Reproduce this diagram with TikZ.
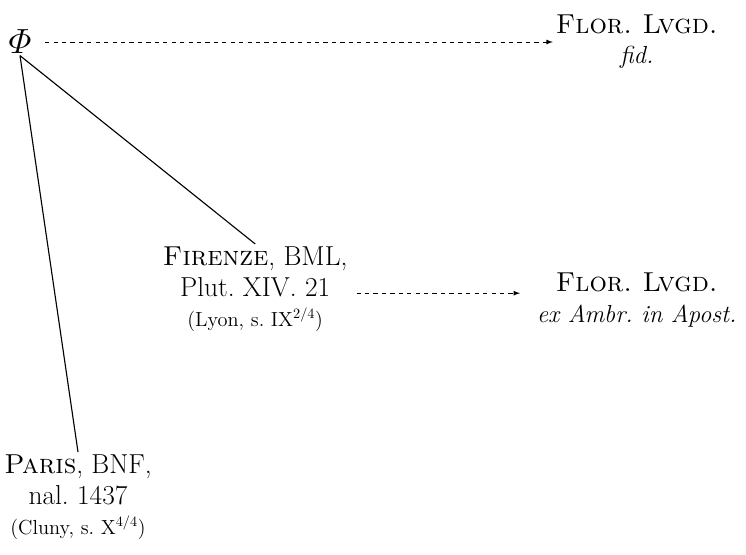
\documentclass[tikz,border=0pt]{standalone}
\usepackage{amsmath}
\usetikzlibrary{positioning}

\begin{document}
\frenchspacing
\begin{tikzpicture}[scale=1.0]
    %styles
    \tikzstyle{ms}=[align=center,inner sep=2pt,font=\fontsize{19.5}{21.5}\selectfont]
    \tikzstyle{flor}=[align=center,inner sep=2pt,font=\fontsize{19.5}{21.5}\selectfont]
    \tikzstyle{deriv}=[->,>=latex,dashed,semithick]
    \tikzstyle{stem}=[thick]
    \newcommand{\orig}[1]{{\fontsize{14.5}{16}\selectfont #1}}
    \newcommand{\opus}[1]{{\fontsize{17.5}{21}\selectfont\itshape #1}}
    \useasboundingbox (0,0) rectangle (18.65,13.85);
    %nodes
    \node[inner sep=1pt,font=\fontsize{24}{26}\selectfont] (phi) at (0.5,12.8) {$\varPhi$};
    \node[flor] (fid) at (15.92,12.8) {\textsc{Flor. Lvgd.}\\ \opus{fid.}};
    \node[ms] (fir) at (6.38,6.62) {\textsc{Firenze}, BML,\\ Plut.~XIV.~21\\ \orig{(Lyon, s.~IX\textsuperscript{2/4})}};
    \node[flor] (amb) at (15.92,6.35) {\textsc{Flor. Lvgd.}\\ \opus{ex Ambr. in Apost.}};
    \node[ms] (par) at (1.95,1.42) {\textsc{Paris}, BNF,\\ nal.~1437\\ \orig{(Cluny, s.~X\textsuperscript{4/4})}};
    %arrows
    \draw[deriv,shorten <=3mm] (phi.east)--(fid.west);
    \draw[deriv,shorten <=1.5mm,shorten >=3.5mm] ([yshift=-1mm]fir.east)--([yshift=-1mm]fir.east -| amb.west);
    \draw[stem] (phi.south)--(fir.north);
    \draw[stem] (phi.south)--(par.north);
\end{tikzpicture}
\end{document}
